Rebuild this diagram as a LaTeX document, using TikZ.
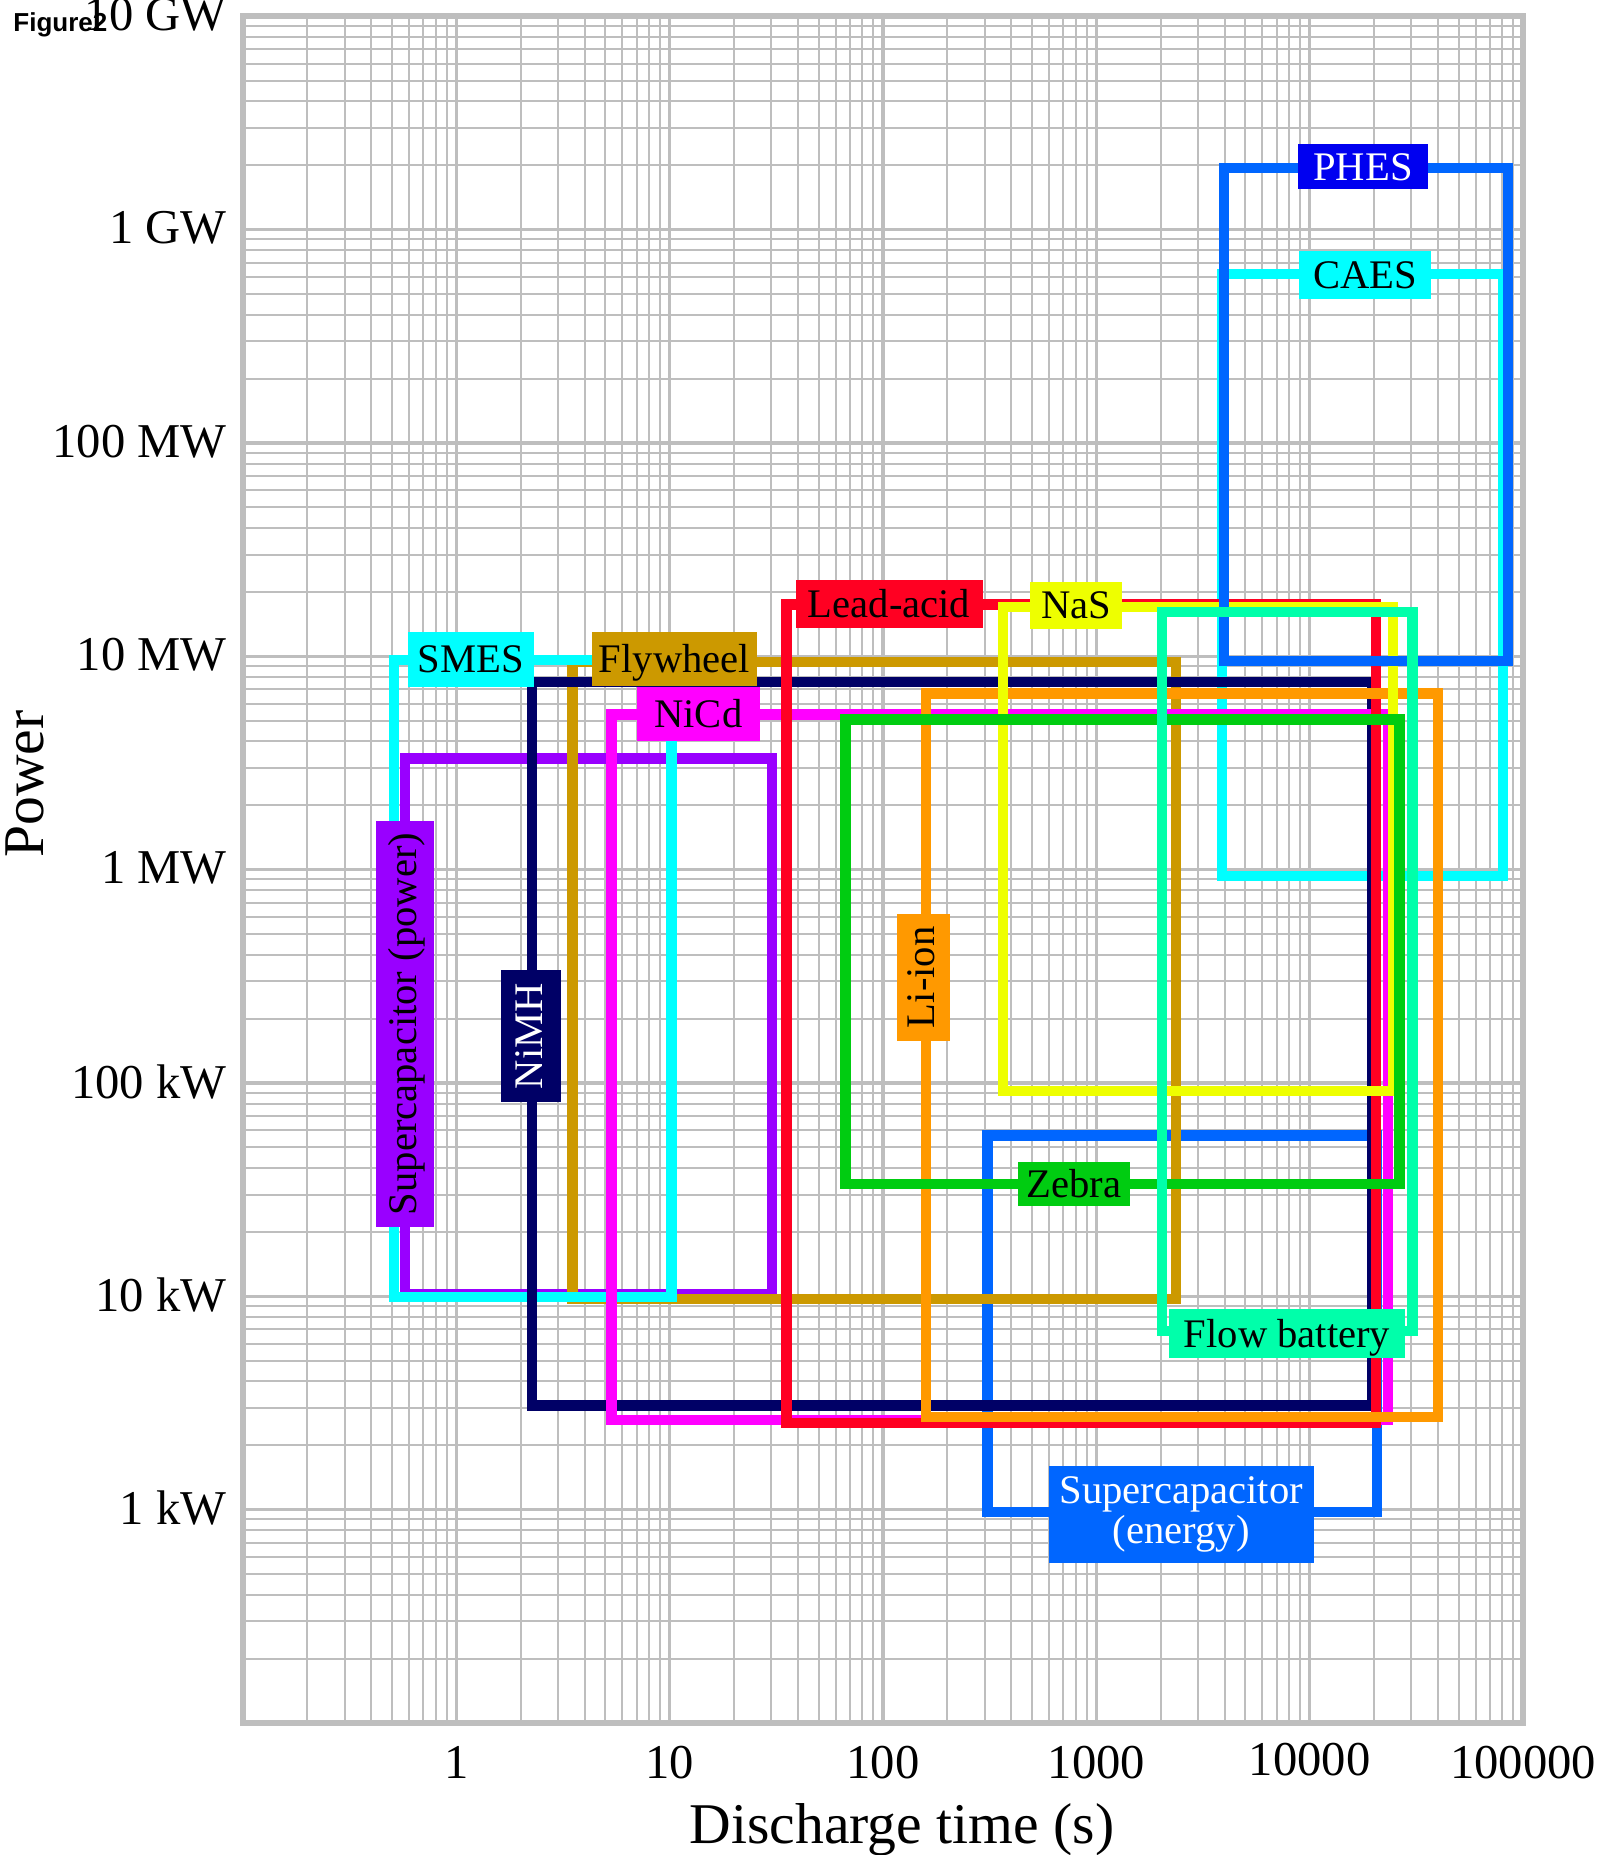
\documentclass[tikz,border=0pt]{standalone}
\usepackage{fontspec}
\setmainfont{Liberation Serif}
\newfontfamily\figfont{Liberation Sans}
\definecolor{gridc}{RGB}{190,190,190}
\definecolor{caesc}{RGB}{0,255,255}
\definecolor{phesc}{RGB}{0,102,255}
\definecolor{phesfill}{RGB}{0,0,240}
\definecolor{spowc}{RGB}{153,0,255}
\definecolor{nimhc}{RGB}{0,0,102}
\definecolor{flyc}{RGB}{204,153,0}
\definecolor{nicdc}{RGB}{255,0,255}
\definecolor{leadc}{RGB}{255,0,34}
\definecolor{nasc}{RGB}{238,255,0}
\definecolor{flowc}{RGB}{0,255,170}
\definecolor{lionc}{RGB}{255,153,0}
\definecolor{zebrac}{RGB}{0,204,17}
\definecolor{senc}{RGB}{0,102,255}
\newcommand{\mylblfont}{\fontsize{20.3}{20.3}\selectfont}
\newcommand{\mytickfont}{\fontsize{24.3}{29}\selectfont}
\newcommand{\mytitlefont}{\fontsize{28.8}{34}\selectfont}
\tikzset{
  box/.style={line width=5.25pt},
  lbl/.style={inner sep=0pt, font=\mylblfont, text height=13.44pt, text depth=0pt},
  vlbl/.style={inner sep=0pt, font=\mylblfont, rotate=90, text height=13.44pt, text depth=2pt},
  ticklbl/.style={inner sep=0pt, font=\mytickfont},
  minorgrid/.style={draw=gridc, line width=1pt},
  majorgrid/.style={draw=gridc, line width=1.7pt},
}
\begin{document}
\begin{tikzpicture}[x=0.5pt,y=-0.5pt]
\useasboundingbox (0,0) rectangle (1598,1855);
% grid
\foreach \i in {0,...,5}{
  \foreach \k in {2,...,9}{
    \pgfmathsetmacro\xx{243+213.333*(\i+log10(\k))}
    \draw[minorgrid] (\xx,16.5) -- (\xx,1723);
  }
}
\foreach \j in {0,...,7}{
  \foreach \k in {2,...,9}{
    \pgfmathsetmacro\yy{1723-213.333*(\j+log10(\k))}
    \draw[minorgrid] (243,\yy) -- (1523,\yy);
  }
}
\foreach \i in {1,...,5}{
  \pgfmathsetmacro\xx{243+213.333*\i}
  \draw[majorgrid] (\xx,16.5) -- (\xx,1723);
}
\foreach \j in {1,...,7}{
  \pgfmathsetmacro\yy{1723-213.333*\j}
  \draw[majorgrid] (243,\yy) -- (1523,\yy);
}
\draw[draw=gridc, line width=3pt] (243,16.5) rectangle (1523,1723);
% tick labels
\node[ticklbl, anchor=east] (y10g) at (227,15) {10 GW};
\node[ticklbl, anchor=east] (y1g) at (227,228) {1 GW};
\node[ticklbl, anchor=east] (y100m) at (227,441.5) {100 MW};
\node[ticklbl, anchor=east] (y10m) at (227,655) {10 MW};
\node[ticklbl, anchor=east] (y1m) at (227,868) {1 MW};
\node[ticklbl, anchor=east] (y100k) at (227,1081.5) {100 kW};
\node[ticklbl, anchor=east] (y10k) at (227,1295) {10 kW};
\node[ticklbl, anchor=east] (y1k) at (227,1508) {1 kW};
\node[ticklbl] (x1) at (456.3,1762.5) {1};
\node[ticklbl] (x10) at (669.7,1762.5) {10};
\node[ticklbl] (x100) at (883,1762.5) {100};
\node[ticklbl] (x1000) at (1096.3,1762.5) {1000};
\node[ticklbl] (x10000) at (1309.7,1760) {10000};
\node[ticklbl] (x100000) at (1523,1762.5) {100000};
\node[inner sep=0pt, font=\mytitlefont, anchor=base] (xtitle) at (902,1843) {Discharge time (s)};
\node[inner sep=0pt, font=\mytitlefont, anchor=base, rotate=90] (ytitle) at (43,784) {Power};
\node[inner sep=0pt, anchor=base west, font=\figfont\bfseries\fontsize{13}{15}\selectfont] (fig) at (13,32) {Figure2};
% boxes
\draw[box, draw=caesc] (1222,274) rectangle (1503,876);
\draw[box, draw=senc] (987.5,1135.5) rectangle (1377,1512);
\draw[box, draw=spowc] (405,758.5) rectangle (772,1294);
\draw[box, draw=flyc] (572.5,662) rectangle (1176,1299);
\draw[box, draw=caesc] (394,660) rectangle (671.5,1297);
\draw[box, draw=nimhc] (532,682) rectangle (1372,1405.5);
\draw[box, draw=nicdc] (611.5,714.5) rectangle (1388,1420);
\draw[box, draw=leadc] (786.5,604.5) rectangle (1376,1423);
\draw[box, draw=lionc] (926,693.5) rectangle (1438,1417);
\draw[box, draw=nasc] (1003,607) rectangle (1393,1091);
\draw[box, draw=zebrac] (845.5,719.5) rectangle (1399.5,1184);
\draw[box, draw=phesc] (1224,168) rectangle (1508,661);
\draw[box, draw=flowc] (1162,612) rectangle (1412.5,1331);
% labels
\node[lbl, fill=phesfill, text=white, minimum width=65pt, minimum height=22.65pt] (lphes) at (1363,166.7) {PHES};
\node[lbl, fill=caesc, minimum width=66pt, minimum height=24pt] (lcaes) at (1365,275) {CAES};
\node[lbl, fill=caesc, minimum width=63pt, minimum height=27.5pt] (lsmes) at (471,659.5) {SMES};
\node[lbl, fill=flyc, minimum width=82.5pt, minimum height=26.7pt] (lfly) at (674.5,659) {Flywheel};
\node[lbl, fill=nicdc, minimum width=61.35pt, minimum height=26.7pt] (lnicd) at (698.3,714) {NiCd};
\node[lbl, fill=leadc, minimum width=93.5pt, minimum height=24pt] (llead) at (889,604) {Lead-acid};
\node[lbl, fill=nasc, minimum width=46pt, minimum height=23.5pt] (lnas) at (1076,605.5) {NaS};
\node[lbl, fill=zebrac, minimum width=56pt, minimum height=21.85pt] (lzebra) at (1074,1184) {Zebra};
\node[lbl, fill=flowc, minimum width=118pt, minimum height=24.5pt] (lflow) at (1287,1333.7) {Flow battery};
\node[inner sep=0pt, font=\mylblfont, align=center, fill=senc, text=white, minimum width=132.35pt, minimum height=48.35pt] (lsen) at (1181.3,1514.3) {Supercapacitor\\(energy)};
\node[vlbl, fill=spowc, minimum width=203pt, minimum height=28.85pt] (lspow) at (405,1024) {Supercapacitor (power)};
\node[vlbl, fill=nimhc, text=white, minimum width=65.85pt, minimum height=30pt] (lnimh) at (531,1036) {NiMH};
\node[vlbl, fill=lionc, minimum width=63.35pt, minimum height=26.5pt] (llion) at (923.5,977.3) {Li-ion};
\end{tikzpicture}
\end{document}
